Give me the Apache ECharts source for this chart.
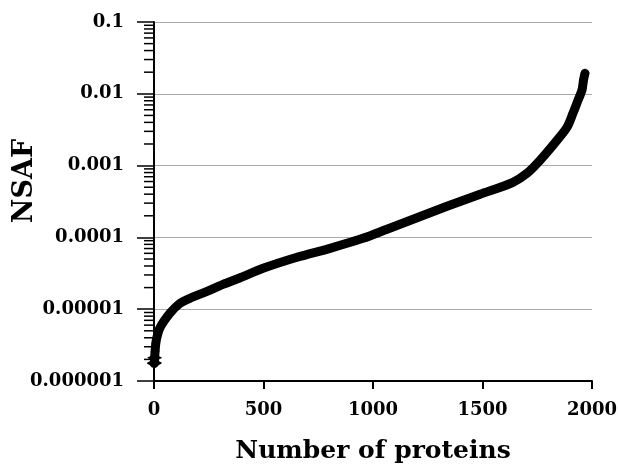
<!DOCTYPE html>
<html>
<head>
<meta charset="utf-8">
<script src="https://cdn.jsdelivr.net/npm/echarts@6/dist/echarts.min.js"></script>
<style>
  html, body { margin: 0; padding: 0; background: #fff; }
  #chart { width: 618px; height: 465px; }
</style>
</head>
<body>
<div id="chart"></div>
<script>
// proteins ranked by NSAF
var proteinRank = [1, 2, 3, 5, 8, 12, 27, 73, 119, 164, 242, 315, 393, 498, 653, 804, 954,
    1064, 1183, 1338, 1489, 1639, 1703, 1763, 1840, 1886, 1913, 1936, 1954, 1961, 1968];
var nsafValue = [1.75e-6, 1.8e-6, 2.1e-6, 2.6e-6, 3.3e-6, 3.9e-6, 5.5e-6, 8.8e-6, 1.21e-5, 1.42e-5,
    1.77e-5, 2.22e-5, 2.74e-5, 3.71e-5, 5.29e-5, 7.05e-5, 9.7e-5,
    1.30e-4, 1.79e-4, 2.71e-4, 3.98e-4, 5.85e-4, 7.81e-4, 1.19e-3, 2.25e-3, 3.42e-3, 5.35e-3,
    8.11e-3, 1.12e-2, 1.54e-2, 1.93e-2];
var yTickLabels = ['0.000001', '0.00001', '0.0001', '0.001', '0.01', '0.1'];
var xTicks = [0, 500, 1000, 1500, 2000];

var fontFam = 'DejaVu Serif';

// minor ticks of the log axis (2..9 in each decade)
var minorTicks = [];
for (var d = -6; d < -1; d++) {
    for (var m = 2; m <= 9; m++) {
        minorTicks.push([0, m * Math.pow(10, d)]);
    }
}

var points = [];
for (var i = 0; i < proteinRank.length; i++) {
    points.push([proteinRank[i], nsafValue[i]]);
}

var option = {
    animation: false,
    backgroundColor: '#fff',
    grid: { left: 154, right: 26, top: 22, bottom: 84, outerBoundsMode: 'none', containLabel: false },
    // y axis title sits a bit above the middle of the axis in the original
    graphic: [{
        type: 'text',
        x: 25,
        y: 181,
        rotation: Math.PI / 2,
        style: {
            text: 'NSAF',
            fontFamily: fontFam, fontSize: 27, fontWeight: 'bold', fill: '#000',
            align: 'center', verticalAlign: 'middle'
        }
    }],
    xAxis: {
        type: 'value',
        min: 0,
        max: 2000,
        interval: 500,
        name: 'Number of proteins',
        nameLocation: 'middle',
        nameGap: 58,
        nameTextStyle: { fontFamily: fontFam, fontSize: 25, fontWeight: 'bold', color: '#000' },
        axisLine: { lineStyle: { color: '#000', width: 2 } },
        axisTick: { show: true, length: 8, lineStyle: { color: '#000', width: 2 } },
        axisLabel: {
            fontFamily: fontFam, fontSize: 18, fontWeight: 'bold', color: '#000', margin: 20,
            formatter: function (v) { return xTicks.indexOf(v) >= 0 ? String(v) : ''; }
        },
        splitLine: { show: false }
    },
    yAxis: {
        type: 'log',
        logBase: 10,
        min: 1e-6,
        max: 0.1,
        axisLine: { show: true, lineStyle: { color: '#000', width: 2 } },
        axisTick: { show: true, length: 17, lineStyle: { color: '#000', width: 1.5 } },
        axisLabel: {
            fontFamily: fontFam, fontSize: 18, fontWeight: 'bold', color: '#000', margin: 30,
            formatter: function (v) {
                var k = Math.round(Math.log(v) / Math.LN10) + 6;
                return yTickLabels[k] || '';
            }
        },
        splitLine: { show: true, lineStyle: { color: '#aaa', width: 1 } }
    },
    series: [
        {
            type: 'custom',
            silent: true,
            clip: false,
            data: minorTicks,
            renderItem: function (params, api) {
                var p = api.coord([0, api.value(1)]);
                return {
                    type: 'line',
                    shape: { x1: p[0] - 10, y1: p[1], x2: p[0], y2: p[1] },
                    style: { stroke: '#000', lineWidth: 1.5 }
                };
            }
        },
        {
            type: 'line',
            data: points,
            clip: false,
            smooth: 0.3,
            symbol: 'diamond',
            showSymbol: true,
            symbolSize: function (val, params) {
                return params.dataIndex < 3 ? [15, 8] : 9;
            },
            itemStyle: { color: '#000' },
            lineStyle: { color: '#000', width: 9, cap: 'round', join: 'round' }
        }
    ]
};

var myChart = echarts.init(document.getElementById('chart'));
myChart.setOption(option);
</script>
</body>
</html>
